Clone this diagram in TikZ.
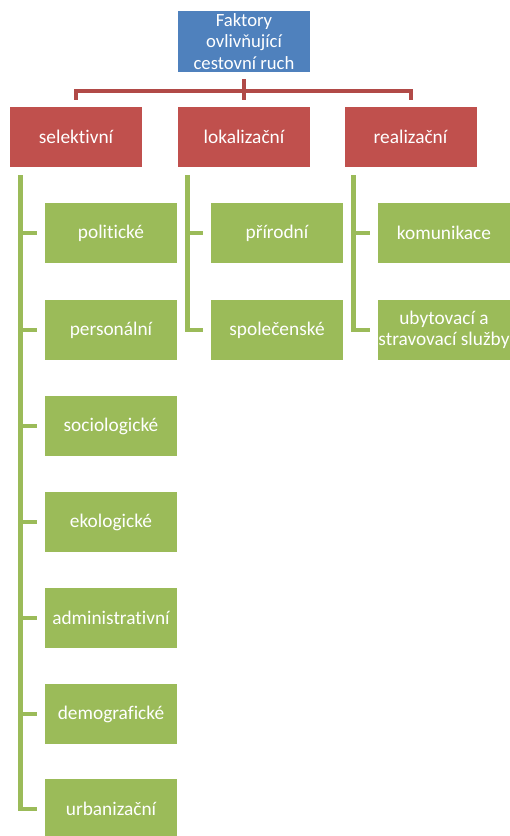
\documentclass[tikz,border=0pt]{standalone}
\usepackage{fontspec}
\setmainfont{Carlito}[Ligatures=NoCommon]
\usetikzlibrary{positioning, calc}
\definecolor{factorblue}{RGB}{79, 129, 189}
\definecolor{groupred}{RGB}{192, 80, 77}
\definecolor{itemgreen}{RGB}{155, 187, 89}

\begin{document}
\begin{tikzpicture}[x=0.75pt, y=-0.75pt,
    root/.style={rectangle, minimum width=99pt, minimum height=46pt, fill=factorblue, 
                 text=white, font=\fontsize{14}{16}\selectfont, align=center, inner sep=0pt},
    group/.style={rectangle, minimum width=99pt, minimum height=45pt, fill=groupred, 
                  text=white, font=\fontsize{14.5}{16}\selectfont, align=center, inner sep=0pt},
    item/.style={rectangle, minimum width=99pt, minimum height=45pt, fill=itemgreen, 
                 text=white, font=\fontsize{14.5}{16}\selectfont, align=center, inner sep=0pt},
    redline/.style={draw=groupred!92!black, line width=3pt, shorten <=5pt, shorten >=5pt},
    greenline/.style={draw=itemgreen, line width=3.5pt}
]
\useasboundingbox (0,0) rectangle (510,836);

% Root
\node[root] (root) at (244,41.5) {Faktory\\ovlivňující\\cestovní ruch};

% Groups
\node[group] (sel) at (76,137) {selektivní};
\node[group] (loc) at (244,137) {lokalizační};
\node[group] (real) at (410.5,137) {realizační};

% Column 1: selektivní
\node[item] (pol) at (111,233) {politické};
\node[item] (pers) at (111,330) {personální};
\node[item] (soc) at (111,426) {sociologické};
\node[item] (eko) at (111,522) {ekologické};
\node[item] (adm) at (111,618) {administrativní};
\node[item] (dem) at (111,714) {demografické};
\node[item] (urb) at (111,809) {urbanizační};

% Column 2: lokalizační
\node[item] (prir) at (277,233) {přírodní};
\node[item] (spol) at (277,330) {společenské};

% Column 3: realizační
\node[item] (kom) at (444,233) {komunikace};
\node[item] (uby) at (444,330) {ubytovací a\\stravovací služby};

% Red connectors
\coordinate (bus) at (0,91);
\draw[redline] (root.south) -- (root.south |- bus) -| (sel.north);
\draw[redline] (root.south) -- (root.south |- bus) -| (real.north);
\draw[redline] (root.south) -- (loc.north);

% Green connectors
\coordinate (c1) at ($(sel.south west)+(10.5,8)$);
\coordinate (c2) at ($(loc.south west)+(10,8)$);
\coordinate (c3) at ($(real.south west)+(9,8)$);

\draw[greenline, shorten >=6pt] (c1) |- (urb.west);
\draw[greenline, shorten >=6pt] (c1 |- pol.west) -- (pol.west);
\draw[greenline, shorten >=6pt] (c1 |- pers.west) -- (pers.west);
\draw[greenline, shorten >=6pt] (c1 |- soc.west) -- (soc.west);
\draw[greenline, shorten >=6pt] (c1 |- eko.west) -- (eko.west);
\draw[greenline, shorten >=6pt] (c1 |- adm.west) -- (adm.west);
\draw[greenline, shorten >=6pt] (c1 |- dem.west) -- (dem.west);

\draw[greenline, shorten >=6pt] (c2) |- (spol.west);
\draw[greenline, shorten >=6pt] (c2 |- prir.west) -- (prir.west);

\draw[greenline, shorten >=6pt] (c3) |- (uby.west);
\draw[greenline, shorten >=6pt] (c3 |- kom.west) -- (kom.west);

\end{tikzpicture}
\end{document}
